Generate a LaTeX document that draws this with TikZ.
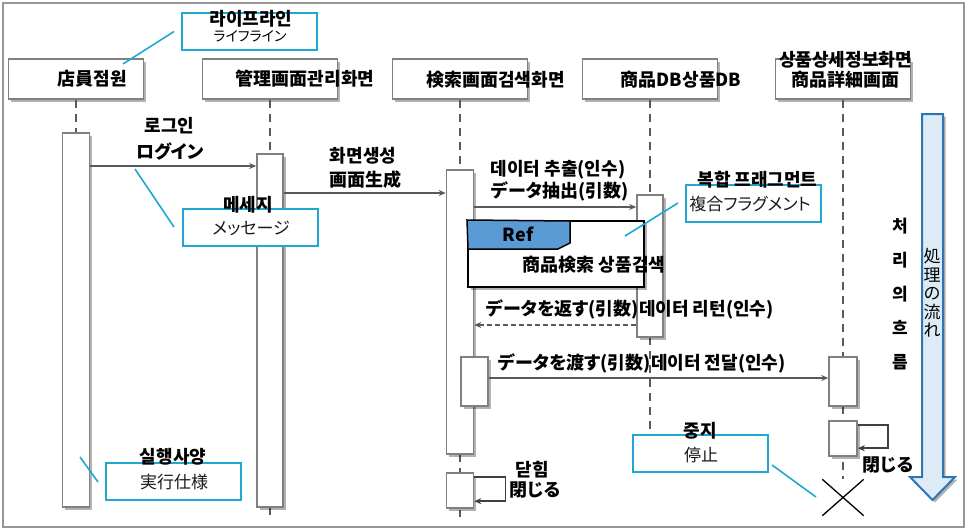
\documentclass[tikz,border=0pt]{standalone}
\usepackage{fontspec}
\setmainfont{Noto Sans CJK KR}
\newfontfamily\jp{Noto Sans CJK JP}[RawFeature=+palt]
\usetikzlibrary{arrows.meta,shadows,shapes.misc}
\definecolor{framegray}{RGB}{150,150,150}
\definecolor{boxgray}{RGB}{128,128,128}
\definecolor{linegray}{RGB}{90,90,90}
\definecolor{arrowgray}{RGB}{89,89,89}
\definecolor{selfgray}{RGB}{64,64,64}
\definecolor{cyanc}{RGB}{30,168,210}
\definecolor{refblue}{RGB}{91,155,213}
\definecolor{arrowfill}{RGB}{221,235,247}
\definecolor{arrowline}{RGB}{46,117,182}
\tikzset{
  shad/.style={drop shadow={shadow xshift=2.5pt,shadow yshift=-2.5pt,opacity=0.3,fill=black}},
  head/.style={draw=boxgray,line width=1.6pt,fill=white,minimum width=135pt,minimum height=40pt,inner sep=0pt,shad},
  actbar/.style={draw=boxgray,line width=1.6pt,fill=white,inner sep=0pt,shad},
  lifeline/.style={draw=linegray,line width=1.5pt,dash pattern=on 8pt off 6pt},
  msg/.style={draw=arrowgray,line width=1.5pt,-{Stealth[length=7pt,width=6pt]}},
  ret/.style={msg,dash pattern=on 5pt off 3pt},
  selfmsg/.style={draw=selfgray,line width=1.5pt,-{Stealth[length=7pt,width=6pt]}},
  callout/.style={draw=cyanc,line width=2pt,fill=white,minimum width=135pt,minimum height=37pt,inner sep=0pt},
  leader/.style={draw=cyanc,line width=1.6pt},
  lbl/.style={font=\bfseries\fontsize{18}{20}\selectfont,inner sep=0pt,text=black},
  jtxt/.style={font=\jp\fontsize{17}{19}\selectfont,inner sep=0pt,text=black!90},
}
\begin{document}
\begin{tikzpicture}[x=1pt,y=-1pt]
\useasboundingbox (0,0) rectangle (967,530);
\draw[framegray,line width=1.5pt] (3,3) rectangle (964,527);

% lifeline heads
\node[head] (h1) at (76,79) {};
\node[head] (h2) at (270,79) {};
\node[head] (h3) at (460,79) {};
\node[head] (h4) at (650,79) {};
\node[head] (h5) at (843,79) {};

\path (76,320) coordinate (cb1) (270,330.5) coordinate (cb2) (460,312) coordinate (cb3)
      (474.5,381.5) coordinate (cb3b) (460,490.5) coordinate (cb3c) (650,266) coordinate (cb4)
      (843,381.5) coordinate (cb5a) (843,438.5) coordinate (cb5b);
\path (76,507) coordinate (e1) (270,517) coordinate (e2) (460,517) coordinate (e3) (650,430) coordinate (e4);

% destroy mark
\node[draw=black,cross out,line width=1.3pt,minimum width=40pt,minimum height=35pt,inner sep=0pt] (xd) at (843,497.5) {};

% lifelines (drawn under bars)
\draw[lifeline] (h1.south) -- (76,133);
\draw[lifeline] (h2.south) -- (270,154);
\draw[lifeline] (h3.south) -- (460,170);
\draw[lifeline] (h4.south) -- (650,195);
\draw[lifeline] (h5.south) -- (843,357);
\draw[lifeline] (270,507) -- (e2);
\draw[lifeline] (460,454) -- (e3);
\draw[lifeline] (650,337) -- (e4);
\draw[lifeline] (843,406) -- (xd.north);

\node[actbar,minimum width=27pt,minimum height=374pt] (b1) at (cb1) {};
\node[actbar,minimum width=26pt,minimum height=353pt] (b2) at (cb2) {};
\node[actbar,minimum width=27pt,minimum height=284pt] (b3) at (cb3) {};
\node[actbar,minimum width=27pt,minimum height=49pt] (b3b) at (cb3b) {};
\node[actbar,minimum width=27pt,minimum height=35pt] (b3c) at (cb3c) {};
\node[actbar,minimum width=26pt,minimum height=142pt] (b4) at (cb4) {};
\node[actbar,minimum width=28pt,minimum height=49pt] (b5a) at (cb5a) {};
\node[actbar,minimum width=28pt,minimum height=35pt] (b5b) at (cb5b) {};

% messages
\coordinate (y1) at (0,166);
\coordinate (y2) at (0,193);
\coordinate (y3) at (0,207);
\coordinate (y4) at (0,325);
\coordinate (y5) at (0,378);
\draw[msg] (b1.east |- y1) -- (b2.west |- y1);
\draw[msg] (b2.east |- y2) -- (b3.west |- y2);
\draw[msg] (b3.east |- y3) -- (b4.west |- y3);
\draw[ret] (b4.west |- y4) -- (b3.east |- y4);
\draw[msg] (b3b.east |- y5) -- (b5a.west |- y5);
\draw[selfmsg] ([yshift=-5pt]b3c.north east) -- ++(31,0) -- ++(0,24) -- ([yshift=-29pt]b3c.north east);
\draw[selfmsg] ([yshift=-5pt]b5b.north east) -- ++(30,0) -- ++(0,23) -- ([yshift=-28pt]b5b.north east);

% Ref fragment
\node[draw=black,line width=2pt,fill=white,minimum width=176pt,minimum height=66pt,inner sep=0pt,shad] (ref) at (556,254) {};
\draw[draw=black,line width=1.5pt,fill=refblue] (ref.north west) -- (570,221) -- (570,243) -- (558,249) -- (468,249) -- cycle;
\node[lbl] (reft) at (518,234) {Ref};
\node[lbl] (refn) at (594,265) {商品検索 상품검색};

% callouts
\node[callout] (cll) at (249.5,31.5) {};
\node[callout] (cmsg) at (250.5,227) {};
\node[callout] (cfrag) at (753.5,203) {};
\node[callout] (cexec) at (173.5,481) {};
\node[callout] (cstop) at (700.5,453) {};
\coordinate (pll) at (123,64);
\coordinate (pmsg) at (135,169);
\coordinate (pfrag) at (625,236);
\coordinate (pexec) at (80,457);
\coordinate (pstop) at (816,497);
\draw[leader] (pll) -- ([xshift=-7pt]cll.west);
\draw[leader] (pmsg) -- ([xshift=-8pt]cmsg.west);
\draw[leader] (pfrag) -- ([xshift=-7pt]cfrag.west);
\draw[leader] (pexec) -- ([xshift=-7pt,yshift=-1pt]cexec.west);
\draw[leader] ([xshift=3pt,yshift=-12pt]cstop.east) -- (pstop);

\node[font=\jp\fontsize{14}{16}\selectfont,inner sep=0pt] (tll) at (250,36) {ライフライン};
\node[jtxt] (tmsg) at (251,228) {メッセージ};
\node[jtxt] (tfrag) at (750,204) {複合フラグメント};
\node[jtxt] (texec) at (174,482) {実行仕様};
\node[jtxt] (tstop) at (701,455) {停止};

\node[lbl] (kll) at (251,18.5) {라이프라인};
\node[lbl] (kmsg) at (248,205) {메세지};
\node[lbl] (kfrag) at (757.5,180) {복합 프래그먼트};
\node[lbl] (kexec) at (173,457) {실행사양};
\node[lbl] (kstop) at (700,431) {중지};

% head labels
\node[lbl] (t1) at (92.5,79) {店員점원};
\node[lbl] (t2) at (305,79) {管理画面관리화면};
\node[lbl] (t3) at (495.5,80) {検索画面검색화면};
\node[lbl] (t4) at (681,80) {商品DB상품DB};
\node[lbl] (t5a) at (845.5,60) {상품상세정보화면};
\node[lbl] (t5b) at (845.5,80) {商品詳細画面};

% message labels
\node[lbl] (l1a) at (169.5,125.5) {로그인};
\node[lbl] (l1b) at (170,151) {\jp ログイン};
\node[lbl] (l2a) at (363,156) {화면생성};
\node[lbl] (l2b) at (365,180) {画面生成};
\node[lbl] (l3a) at (558,170) {데이터 추출(인수)};
\node[lbl] (l3b) at (560,191) {{\jp データ抽出(引数)}};
\node[lbl] (l4) at (630,309) {{\jp データを返す(引数)}데이터 리턴(인수)};
\node[lbl] (l5) at (642,363) {{\jp データを渡す(引数)}데이터 전달(인수)};
\node[lbl] (l6a) at (532,470) {닫힘};
\node[lbl] (l6b) at (535,490) {{\jp 閉じる}};
\node[lbl] (l7) at (888,465) {{\jp 閉じる}};

% flow arrow
\path[draw=arrowline,line width=2pt,fill=arrowfill,shad] (922,114) -- (943,114) -- (943,477) -- (955,477) -- (932.5,500) -- (910,477) -- (922,477) -- cycle;
\node[font=\jp\fontsize{17}{18.5}\selectfont,align=center,inner sep=0pt] (flowj) at (932,293) {処\\理\\の\\流\\れ};
\node[font=\bfseries\fontsize{17}{34}\selectfont,align=center,inner sep=0pt] (flowk) at (900,294.5) {처\\리\\의\\흐\\름};
\end{tikzpicture}
\end{document}
